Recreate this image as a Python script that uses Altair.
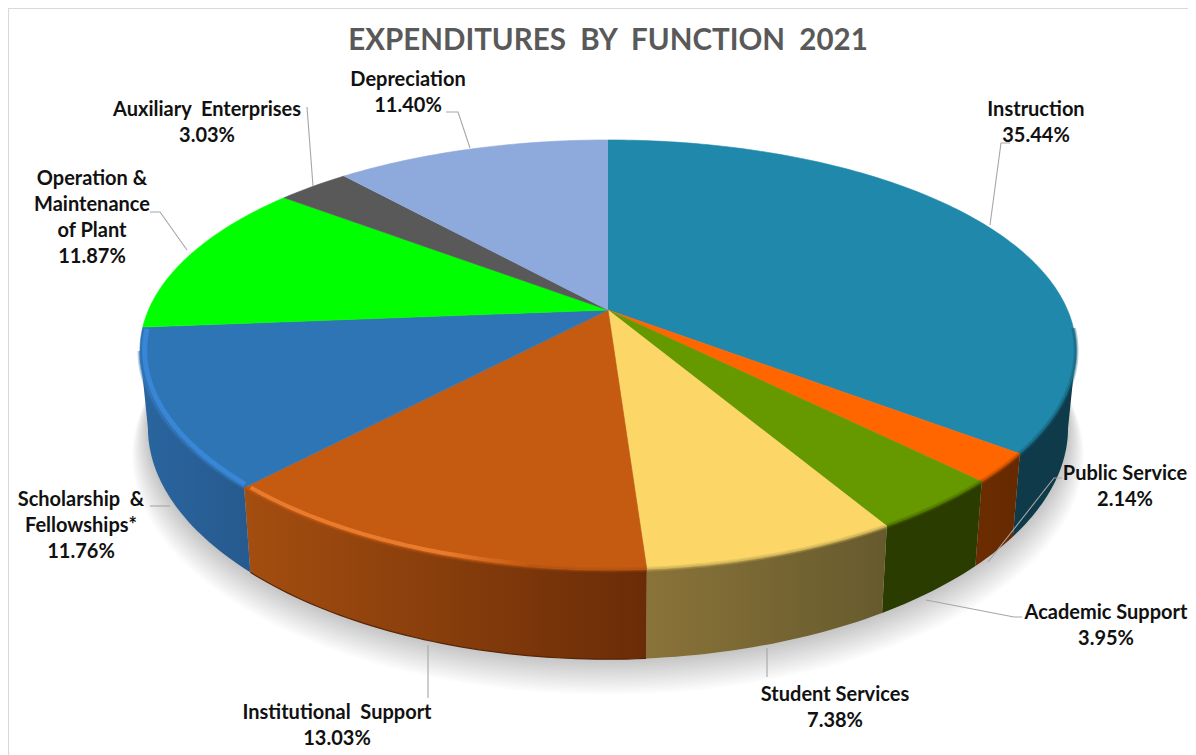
import math
import altair as alt
import pandas as pd

# ---- data ----
categories = ["Instruction", "Public Service", "Academic Support", "Student Services",
              "Institutional Support", "Scholarship & Fellowships*",
              "Operation & Maintenance of Plant", "Auxiliary Enterprises", "Depreciation"]
shares = [35.44, 2.14, 3.95, 7.38, 13.03, 11.76, 11.87, 3.03, 11.40]

# ---- styles ----
top_colors = ["#1f88ab", "#ff6600", "#669900", "#fcd768", "#c55a11", "#2e75b6", "#00ff00", "#595959", "#8ea9db"]
wall_left = ["#0f3a4a", "#6b2c00", "#2b3c00", "#8a7339", "#a44e10", "#2a659f", None, None, None]
wall_right = ["#0f3a4a", "#662a00", "#2b3c00", "#665a2d", "#6a2c07", "#265a8e", None, None, None]
rim_colors = ["#145e77", "#b24700", "#4a6a00", "#c4a854", "#b0500f", "#2f72b2", None, None, None]
highlights = {4: "#e97c2c", 5: "#3a89da"}

# ---- label layout ----
NB = "\u00a0"
label_texts = ["Instruction\n35.44%", "Public Service\n2.14%", "Academic Support\n3.95%",
               "Student Services\n7.38%", "Institutional " + NB + "Support\n13.03%",
               "Scholarship " + NB + "&\nFellowships*\n11.76%", "Operation &\nMaintenance\nof Plant\n11.87%",
               "Auxiliary " + NB + "Enterprises\n3.03%", "Depreciation\n11.40%"]
label_x = [1036, 1125, 1106, 835, 337, 81, 92, 207, 408]
label_y = [109.5, 474, 612.5, 694.5, 713, 499.5, 178.5, 109.5, 79.5]
leaders = [
    [(990, 225), (1001, 143), (1010, 143)],
    [(988, 562), (1054, 478), (1062, 478)],
    [(926, 600), (1014, 617), (1022, 617)],
    [(767, 648), (767, 677)],
    [(428, 645), (428, 698)],
    [(170, 506), (150, 506)],
    [(187, 250), (160, 212), (150, 212)],
    [(313, 186), (307, 107)],
    [(470, 148), (458, 112), (446, 112)],
]

# ---- projection of the disc onto the page ----
CX, CY, A, B, KX, KY = 608.0, 310.0, 459.5, 205.6, 0.19, 0.209
SIL_R, SIL_L = 101.0, 259.0  # where the rim turns away from the viewer


def rim(theta_deg, r=1.0):
    t = math.radians(theta_deg)
    return (CX + r * A * math.sin(t) / (1 + KX * math.cos(t)),
            CY - r * B * math.cos(t) / (1 + KY * math.cos(t)))


def base(theta_deg, grow=0.0, drop=0.0):
    x, y = rim(theta_deg)
    return (CX + (0.983 + grow) * (x - CX),
            CY + 75 + drop + (1.055 + grow) * (y - CY))


def arc_steps(a, b, step=1.0):
    n = max(2, int(abs(b - a) / step))
    return [a + (b - a) * i / n for i in range(n + 1)]


def frame(points):
    return pd.DataFrame([{"x": p[0], "y": p[1], "i": i} for i, p in enumerate(points)])


xs = alt.X("x:Q", scale=alt.Scale(domain=[8, 1188], nice=False, zero=False), axis=None)
ys = alt.Y("y:Q", scale=alt.Scale(domain=[755, 8], nice=False, zero=False), axis=None)
order = alt.Order("i:Q")


def shape(points, **mark):
    return alt.Chart(frame(points)).mark_line(**mark).encode(x=xs, y=ys, order=order)


edges = [0.0]
for s in shares:
    edges.append(edges[-1] + s * 3.6)

layers = []

# soft shadow under the pie
for step in range(20):
    pts = [base(t, grow=0.0018 * step, drop=1.4 * step) for t in arc_steps(0, 360, 3)]
    layers.append(shape(pts, fill="#000000", fillOpacity=0.012, strokeWidth=0))

# side walls
for i, (a, b) in enumerate(zip(edges[:-1], edges[1:])):
    if wall_left[i] is None:
        continue
    ts = arc_steps(max(a, SIL_R), min(b, SIL_L))
    pts = [rim(t) for t in ts] + [base(t) for t in reversed(ts)]
    grad = alt.Gradient(gradient="linear", x1=0, x2=1, y1=0, y2=0,
                        stops=[alt.GradientStop(color=wall_left[i], offset=0),
                               alt.GradientStop(color=wall_right[i], offset=1)])
    layers.append(shape(pts, fill=grad, strokeWidth=0))

# top faces
for i, (a, b) in enumerate(zip(edges[:-1], edges[1:])):
    pts = [(CX, CY)] + [rim(t) for t in arc_steps(a, b)]
    layers.append(shape(pts, fill=top_colors[i], stroke=top_colors[i], strokeWidth=0.6))

# bevel along the front edge
for i, (a, b) in enumerate(zip(edges[:-1], edges[1:])):
    if rim_colors[i] is None:
        continue
    ts = arc_steps(max(a, SIL_R - 6), min(b, SIL_L))
    line = [rim(t) for t in ts]
    layers.append(shape(line, stroke=rim_colors[i], strokeWidth=5, strokeOpacity=0.3))
    layers.append(shape(line, stroke=rim_colors[i], strokeWidth=2.5, strokeOpacity=0.5))
    if i in highlights:
        inner = [rim(t, 0.99) for t in arc_steps(a + 0.5 + (b - a) * 0.25 * (i == 4), b - 0.5)]
        stops = [alt.GradientStop(color=highlights[i], offset=0),
                 alt.GradientStop(color=highlights[i], offset=0.7),
                 alt.GradientStop(color=top_colors[i], offset=1)]
        if i == 4:
            grad = alt.Gradient(gradient="linear", x1=0, x2=1, y1=0, y2=0, stops=stops)
            layers.append(shape(inner, stroke=grad, strokeWidth=4))
        else:
            layers.append(shape(inner, stroke=highlights[i], strokeWidth=5, strokeOpacity=0.85))

# thin dark edge under the Institutional Support wall
layers.append(shape([base(t) for t in arc_steps(edges[4], edges[5])], stroke="#5a2506", strokeWidth=1.2))

# chart frame
layers.append(shape([(8.5, 755), (8.5, 8.5), (1188, 8.5)], stroke="#d9d9d9", strokeWidth=1.2))

# leader lines
for pts in leaders:
    layers.append(shape(pts, stroke="#a6a6a6", strokeWidth=1.1))

# labels
labels = pd.DataFrame({"x": label_x, "y": label_y, "t": label_texts})
layers.append(alt.Chart(labels).mark_text(
    font="Lato", fontWeight="bold", fontSize=20, color="#111111", align="center",
    baseline="middle", lineBreak="\n", lineHeight=26
).encode(x=xs, y=ys, text="t:N"))

title_text = "EXPENDITURES" + NB + " BY" + NB + " FUNCTION" + NB + " 2021"
title = pd.DataFrame({"x": [608], "y": [41], "t": [title_text]})
layers.append(alt.Chart(title).mark_text(
    font="Lato", fontWeight="bold", fontSize=29.5, color="#595959", align="center", baseline="middle"
).encode(x=xs, y=ys, text="t:N"))

chart = alt.layer(*layers).properties(
    width=1180, height=747, padding=0,
    autosize=alt.AutoSizeParams(type="none"), background="white"
).configure_view(stroke=None)

chart.save("out.html", embed_options={"renderer": "svg", "actions": False})
